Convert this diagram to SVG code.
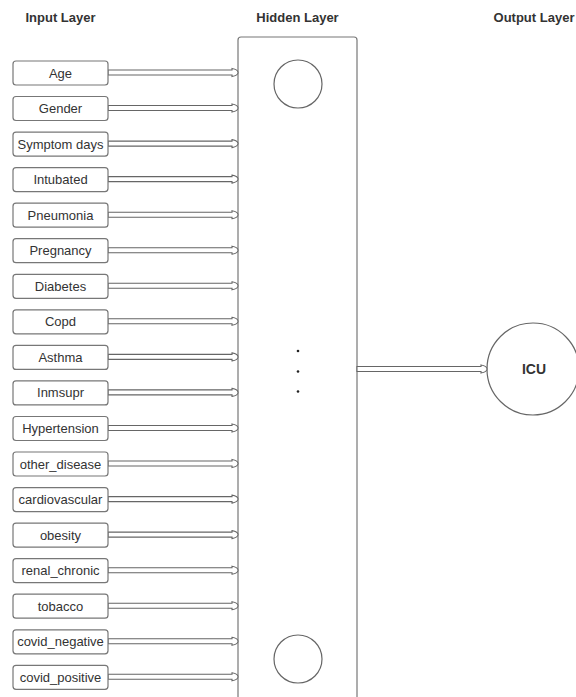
<svg xmlns="http://www.w3.org/2000/svg" xmlns:xlink="http://www.w3.org/1999/xlink" width="576" height="697" viewBox="0 0 576 697">
<style>
.title{font-family:"Liberation Sans",Arial,sans-serif;font-size:13px;font-weight:bold;fill:#333;text-anchor:middle}
.lbl{font-family:"Liberation Sans",Arial,sans-serif;font-size:13px;fill:#333;text-anchor:middle;dominant-baseline:central}
.box{fill:#fff;stroke:#777;stroke-width:1.2}
.circ{fill:#fff;stroke:#666;stroke-width:1.2}
.arr{fill:#fff;stroke:#666;stroke-width:1.1}
</style>
<defs>
<path id="arrIn" class="arr" d="M108,-2.5 L232,-2.5 L232,-4 Q238,-3 238,0 Q238,3 232,4 L232,2.5 L108,2.5 Z"/>
</defs>
<rect width="576" height="697" fill="#fff"/>
<g id="titles">
<text class="title" x="60.5" y="22">Input Layer</text>
<text class="title" x="297.5" y="22">Hidden Layer</text>
<text class="title" x="534" y="22">Output Layer</text>
</g>
<g id="hidden">
<rect class="box" x="238" y="37" width="119" height="680" rx="3"/>
<circle class="circ" cx="298" cy="84" r="24"/>
<circle class="circ" cx="298" cy="659" r="24"/>
<circle cx="298" cy="351" r="1.3" fill="#222"/>
<circle cx="298" cy="371.5" r="1.3" fill="#222"/>
<circle cx="298" cy="391.5" r="1.3" fill="#222"/>
</g>
<g id="output">
<circle class="circ" cx="533" cy="369" r="46"/>
<text class="lbl" x="534" y="369" style="font-weight:bold;font-size:14px">ICU</text>
</g>
<g id="connectors">
<use xlink:href="#arrIn" transform="translate(0,72.5)"/>
<use xlink:href="#arrIn" transform="translate(0,108)"/>
<use xlink:href="#arrIn" transform="translate(0,143.6)"/>
<use xlink:href="#arrIn" transform="translate(0,179.1)"/>
<use xlink:href="#arrIn" transform="translate(0,214.7)"/>
<use xlink:href="#arrIn" transform="translate(0,250.2)"/>
<use xlink:href="#arrIn" transform="translate(0,285.8)"/>
<use xlink:href="#arrIn" transform="translate(0,321.3)"/>
<use xlink:href="#arrIn" transform="translate(0,356.9)"/>
<use xlink:href="#arrIn" transform="translate(0,392.4)"/>
<use xlink:href="#arrIn" transform="translate(0,428)"/>
<use xlink:href="#arrIn" transform="translate(0,463.5)"/>
<use xlink:href="#arrIn" transform="translate(0,499.1)"/>
<use xlink:href="#arrIn" transform="translate(0,534.6)"/>
<use xlink:href="#arrIn" transform="translate(0,570.2)"/>
<use xlink:href="#arrIn" transform="translate(0,605.7)"/>
<use xlink:href="#arrIn" transform="translate(0,641.3)"/>
<use xlink:href="#arrIn" transform="translate(0,676.8)"/>
<path class="arr" d="M357,366.5 L481,366.5 L481,365 Q487,366 487,369 Q487,372 481,373 L481,371.5 L357,371.5 Z"/>
</g>
<g id="in-age"><rect class="box" x="13" y="61" width="95" height="24" rx="3"/><text class="lbl" x="60.5" y="73">Age</text></g>
<g id="in-gender"><rect class="box" x="13" y="96.5" width="95" height="24" rx="3"/><text class="lbl" x="60.5" y="108.5">Gender</text></g>
<g id="in-symptom"><rect class="box" x="13" y="132.1" width="95" height="24" rx="3"/><text class="lbl" x="60.5" y="144.1">Symptom days</text></g>
<g id="in-intubated"><rect class="box" x="13" y="167.6" width="95" height="24" rx="3"/><text class="lbl" x="60.5" y="179.6">Intubated</text></g>
<g id="in-pneumonia"><rect class="box" x="13" y="203.2" width="95" height="24" rx="3"/><text class="lbl" x="60.5" y="215.2">Pneumonia</text></g>
<g id="in-pregnancy"><rect class="box" x="13" y="238.7" width="95" height="24" rx="3"/><text class="lbl" x="60.5" y="250.7">Pregnancy</text></g>
<g id="in-diabetes"><rect class="box" x="13" y="274.3" width="95" height="24" rx="3"/><text class="lbl" x="60.5" y="286.3">Diabetes</text></g>
<g id="in-copd"><rect class="box" x="13" y="309.8" width="95" height="24" rx="3"/><text class="lbl" x="60.5" y="321.8">Copd</text></g>
<g id="in-asthma"><rect class="box" x="13" y="345.4" width="95" height="24" rx="3"/><text class="lbl" x="60.5" y="357.4">Asthma</text></g>
<g id="in-inmsupr"><rect class="box" x="13" y="380.9" width="95" height="24" rx="3"/><text class="lbl" x="60.5" y="392.9">Inmsupr</text></g>
<g id="in-hypertension"><rect class="box" x="13" y="416.5" width="95" height="24" rx="3"/><text class="lbl" x="60.5" y="428.5">Hypertension</text></g>
<g id="in-other"><rect class="box" x="13" y="452" width="95" height="24" rx="3"/><text class="lbl" x="60.5" y="464">other_disease</text></g>
<g id="in-cardio"><rect class="box" x="13" y="487.6" width="95" height="24" rx="3"/><text class="lbl" x="60.5" y="499.6">cardiovascular</text></g>
<g id="in-obesity"><rect class="box" x="13" y="523.1" width="95" height="24" rx="3"/><text class="lbl" x="60.5" y="535.1">obesity</text></g>
<g id="in-renal"><rect class="box" x="13" y="558.7" width="95" height="24" rx="3"/><text class="lbl" x="60.5" y="570.7">renal_chronic</text></g>
<g id="in-tobacco"><rect class="box" x="13" y="594.2" width="95" height="24" rx="3"/><text class="lbl" x="60.5" y="606.2">tobacco</text></g>
<g id="in-covneg"><rect class="box" x="13" y="629.8" width="95" height="24" rx="3"/><text class="lbl" x="60.5" y="641.8">covid_negative</text></g>
<g id="in-covpos"><rect class="box" x="13" y="665.3" width="95" height="24" rx="3"/><text class="lbl" x="60.5" y="677.3">covid_positive</text></g>
</svg>
